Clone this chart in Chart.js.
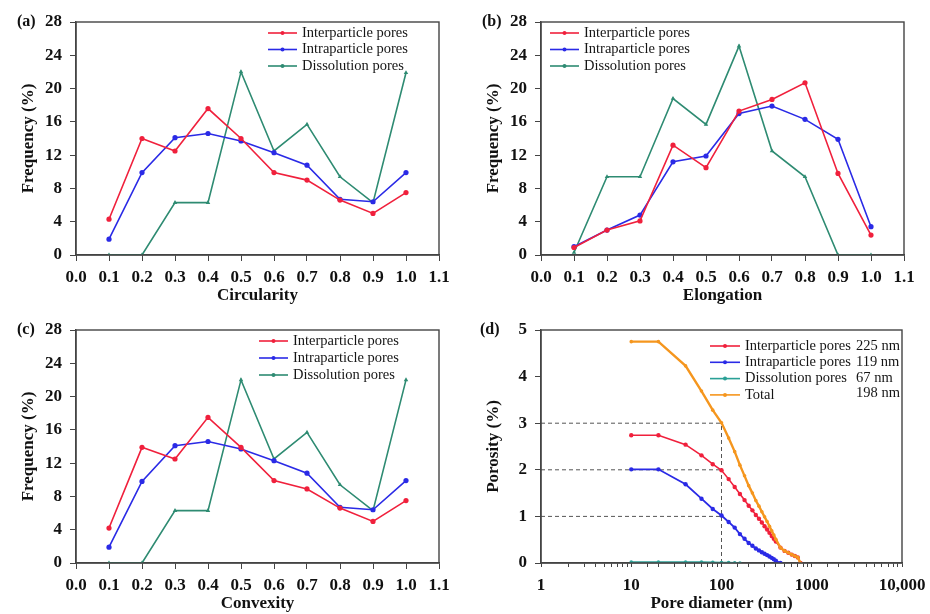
<!DOCTYPE html>
<html>
<head>
<meta charset="utf-8">
<script src="https://cdn.jsdelivr.net/npm/chart.js@4.4.0/dist/chart.umd.min.js"></script>
<style>
  body { margin: 0; background: #fff; width: 930px; height: 614px; position: relative; overflow: hidden; }
  canvas { position: absolute; }
</style>
</head>
<body>
<canvas id="chartA" width="465" height="307" style="left:0;top:0"></canvas>
<canvas id="chartB" width="465" height="307" style="left:465px;top:0"></canvas>
<canvas id="chartC" width="465" height="307" style="left:0;top:307px"></canvas>
<canvas id="chartD" width="465" height="307" style="left:465px;top:307px"></canvas>
<script>
// shape parameter bins (a-c)
const shapeBins = [0.1, 0.2, 0.3, 0.4, 0.5, 0.6, 0.7, 0.8, 0.9, 1.0];

const circInter = [4.3, 14.0, 12.5, 17.6, 14.0, 9.9, 9.0, 6.6, 5.0, 7.5];
const circIntra = [1.9, 9.9, 14.1, 14.6, 13.7, 12.3, 10.8, 6.7, 6.4, 9.9];
const circDiss  = [0, 0, 6.3, 6.3, 22.0, 12.5, 15.7, 9.4, 6.3, 21.9];

const elongInter = [0.9, 3.0, 4.1, 13.2, 10.5, 17.3, 18.7, 20.7, 9.8, 2.4];
const elongIntra = [1.0, 3.0, 4.8, 11.2, 11.9, 17.0, 17.9, 16.3, 13.9, 3.4];
const elongDiss  = [0.3, 9.4, 9.4, 18.8, 15.7, 25.1, 12.5, 9.4, 0, 0];

const convInter = [4.2, 13.9, 12.5, 17.5, 13.9, 9.9, 8.9, 6.6, 5.0, 7.5];
const convIntra = [1.9, 9.8, 14.1, 14.6, 13.7, 12.3, 10.8, 6.7, 6.4, 9.9];
const convDiss  = [0, 0, 6.3, 6.3, 22.0, 12.5, 15.7, 9.4, 6.3, 22.0];

const freqTicks = [0, 4, 8, 12, 16, 20, 24, 28];

// pore size distribution (d)
const poreDiameter = [10, 20, 40, 60, 80, 100, 120, 140, 160, 180, 200, 220, 240, 260,
  280, 300, 320, 340, 360, 380, 400, 450, 500, 550, 600, 650, 700, 750];
const interPorosity = [2.74, 2.74, 2.54, 2.31, 2.12, 1.99, 1.80, 1.63, 1.48, 1.35, 1.23, 1.13, 1.03, 0.95,
  0.87, 0.79, 0.72, 0.65, 0.58, 0.52, 0.46, 0.33, 0.26, 0.22, 0.18, 0.15, 0.12, 0];
const intraPorosity = [2.01, 2.01, 1.69, 1.38, 1.16, 1.02, 0.88, 0.76, 0.62, 0.52, 0.43, 0.37, 0.31, 0.27,
  0.23, 0.20, 0.17, 0.14, 0.11, 0.08, 0.05, 0, null, null, null, null, null, null];
const dissPorosity = [0.02, 0.02, 0.02, 0.02, 0.015, 0.01, 0.01, 0.005, 0, null, null, null, null, null,
  null, null, null, null, null, null, null, null, null, null, null, null, null, null];
const totalPorosity = [4.75, 4.75, 4.23, 3.69, 3.28, 3.01, 2.68, 2.39, 2.10, 1.87, 1.66, 1.50, 1.34, 1.22,
  1.10, 0.99, 0.89, 0.79, 0.69, 0.60, 0.51, 0.33, 0.26, 0.22, 0.18, 0.15, 0.12, 0];
const medianLabels = ['225 nm', '119 nm', '67 nm', '198 nm'];
const guideLevels = [3, 2, 1];
const guideDiameter = 100;
const logMajors = [1, 10, 100, 1000, 10000];

const seriesNames = ['Interparticle pores', 'Intraparticle pores', 'Dissolution pores', 'Total'];

const RED = '#f0203c', BLUE = '#2a2ae6', GREEN = '#2e8b72', TEAL = '#2aa096', ORANGE = '#f5961e';
const AXIS = '#444';
const SERIF = '"Liberation Serif", "Times New Roman", serif';

// frame on top/right and panel letter
const framePlugin = {
  id: 'frame',
  afterDraw(chart, args, opts) {
    const { ctx, chartArea: a } = chart;
    ctx.save();
    ctx.strokeStyle = AXIS;
    ctx.lineWidth = 1.4;
    ctx.strokeRect(a.left, a.top, a.right - a.left, a.bottom - a.top);
    ctx.fillStyle = '#111';
    ctx.font = 'bold 16px ' + SERIF;
    ctx.textBaseline = 'middle';
    ctx.fillText(opts.letter, opts.lx, opts.ly);
    ctx.restore();
  }
};

const legendPlugin = {
  id: 'poreLegend',
  afterDatasetsDraw(chart, args, opts) {
    const ctx = chart.ctx;
    ctx.save();
    ctx.font = '14.5px ' + SERIF;
    ctx.textBaseline = 'middle';
    let row = 0;
    chart.data.datasets.forEach(ds => {
      if (ds.guide) return;
      const y = opts.y + row * opts.rowH;
      ctx.strokeStyle = ds.borderColor;
      ctx.lineWidth = 1.6;
      ctx.beginPath();
      ctx.moveTo(opts.x, y);
      ctx.lineTo(opts.x + opts.lineLen, y);
      ctx.stroke();
      ctx.fillStyle = ds.borderColor;
      ctx.beginPath();
      ctx.arc(opts.x + opts.lineLen / 2, y, 2, 0, Math.PI * 2);
      ctx.fill();
      ctx.fillStyle = '#151515';
      ctx.fillText(ds.label, opts.x + opts.lineLen + 5, y);
      if (opts.notes) ctx.fillText(opts.notes[row], opts.notesX, y + (row === 3 ? -2 : 0));
      row++;
    });
    ctx.restore();
  }
};

function axisBase(title, titlePad) {
  return {
    border: { display: true, color: AXIS, width: 1.4 },
    grid: { drawOnChartArea: false, drawTicks: true, tickLength: 6, color: AXIS, tickColor: AXIS },
    ticks: { color: '#111', font: { family: SERIF, size: 17, weight: 'bold' } },
    title: { display: true, text: title, color: '#111', padding: titlePad,
      font: { family: SERIF, size: 17, weight: 'bold' } }
  };
}

function pts(xs, ys) {
  return xs.map((x, i) => ({ x: x, y: ys[i] }));
}

function lineSet(label, color, data, style, extra) {
  return Object.assign({
    label: label, data: data, borderColor: color, backgroundColor: color,
    borderWidth: 1.6, pointRadius: 2.6, pointStyle: style, pointBorderWidth: 0,
    tension: 0, fill: false
  }, extra || {});
}

function fitX(h) {
  return s => { s.height = h; s.paddingLeft = 0; s.paddingRight = 0; };
}

function shapeChart(id, letter, xTitle, inter, intra, diss, legendPos, padTop, xHeight, titleBottom) {
  const x = axisBase(xTitle, { top: 0, bottom: titleBottom });
  x.type = 'linear';
  x.min = 0; x.max = 1.1;
  x.ticks.stepSize = 0.1;
  x.ticks.padding = 6;
  x.ticks.autoSkip = false;
  x.ticks.maxRotation = 0;
  x.ticks.callback = v => v.toFixed(1);
  x.afterFit = fitX(xHeight);

  const y = axisBase('Frequency (%)', { top: 18, bottom: 0 });
  y.min = 0; y.max = 28;
  y.ticks.stepSize = 4;
  y.ticks.padding = 8;
  y.afterBuildTicks = s => { s.ticks = freqTicks.map(v => ({ value: v })); };
  y.afterFit = s => { s.width = 76; s.paddingTop = 0; s.paddingBottom = 0; };

  return new Chart(document.getElementById(id), {
    type: 'line',
    data: {
      datasets: [
        lineSet(seriesNames[0], RED, pts(shapeBins, inter), 'circle'),
        lineSet(seriesNames[1], BLUE, pts(shapeBins, intra), 'circle'),
        lineSet(seriesNames[2], GREEN, pts(shapeBins, diss), 'triangle')
      ]
    },
    options: {
      responsive: false, animation: false, devicePixelRatio: 1,
      layout: { padding: { top: padTop, right: 26, left: 0, bottom: 0 } },
      scales: { x: x, y: y },
      plugins: {
        legend: { display: false }, tooltip: { enabled: false },
        frame: { letter: letter, lx: 17, ly: padTop },
        poreLegend: legendPos
      }
    },
    plugins: [framePlugin, legendPlugin]
  });
}

shapeChart('chartA', '(a)', 'Circularity', circInter, circIntra, circDiss,
  { x: 268, y: 33, rowH: 16.5, lineLen: 29 }, 22, 52, 1);
shapeChart('chartB', '(b)', 'Elongation', elongInter, elongIntra, elongDiss,
  { x: 85, y: 33, rowH: 16.5, lineLen: 29 }, 22, 52, 1);
shapeChart('chartC', '(c)', 'Convexity', convInter, convIntra, convDiss,
  { x: 259, y: 34, rowH: 17, lineLen: 29 }, 23, 51, 0);

// panel d
(function () {
  const x = axisBase('Pore diameter (nm)', { top: 0, bottom: 0 });
  x.type = 'logarithmic';
  x.min = 1; x.max = 10000;
  x.ticks.padding = 8;
  x.ticks.autoSkip = false;
  x.ticks.maxRotation = 0;
  x.ticks.callback = v => logMajors.includes(v) ? (v === 10000 ? '10,000' : String(v)) : '';
  x.grid.tickLength = 4;
  x.afterFit = fitX(51);

  const y = axisBase('Porosity (%)', { top: 18, bottom: 0 });
  y.min = 0; y.max = 5;
  y.ticks.stepSize = 1;
  y.ticks.padding = 8;
  y.afterFit = s => { s.width = 76; s.paddingTop = 0; s.paddingBottom = 0; };

  const guides = guideLevels.map(l => lineSet('', '#555', [{ x: 1, y: l }, { x: guideDiameter, y: l }], 'circle',
    { guide: true, borderWidth: 1, borderDash: [4, 3], pointRadius: 0, order: 5 }));
  guides.push(lineSet('', '#555', [{ x: guideDiameter, y: 0 }, { x: guideDiameter, y: guideLevels[0] }], 'circle',
    { guide: true, borderWidth: 1, borderDash: [4, 3], pointRadius: 0, order: 5 }));

  new Chart(document.getElementById('chartD'), {
    type: 'line',
    data: {
      datasets: [
        lineSet(seriesNames[0], RED, pts(poreDiameter, interPorosity), 'circle', { pointRadius: 2.2, order: 2 }),
        lineSet(seriesNames[1], BLUE, pts(poreDiameter, intraPorosity), 'circle', { pointRadius: 2.2, borderWidth: 1.8, order: 3 }),
        lineSet(seriesNames[2], TEAL, pts(poreDiameter, dissPorosity), 'circle', { pointRadius: 1.8, order: 4 }),
        lineSet(seriesNames[3], ORANGE, pts(poreDiameter, totalPorosity), 'circle', { pointRadius: 1.8, borderWidth: 2.4, order: 1 })
      ].concat(guides)
    },
    options: {
      responsive: false, animation: false, devicePixelRatio: 1,
      layout: { padding: { top: 23, right: 28, left: 0, bottom: 0 } },
      scales: { x: x, y: y },
      plugins: {
        legend: { display: false }, tooltip: { enabled: false },
        frame: { letter: '(d)', lx: 15, ly: 23 },
        poreLegend: { x: 245, y: 39, rowH: 16.3, lineLen: 30, notes: medianLabels, notesX: 391 }
      }
    },
    plugins: [framePlugin, legendPlugin]
  });
})();
</script>
</body>
</html>
